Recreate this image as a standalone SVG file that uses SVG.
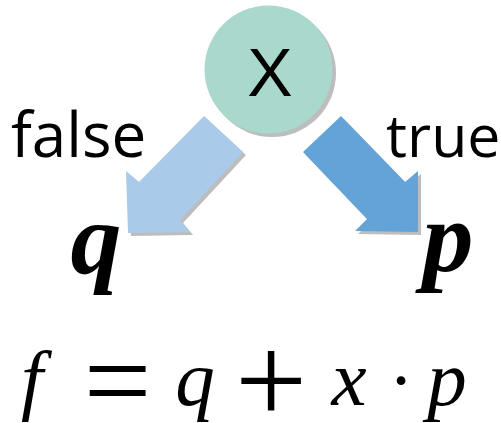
<svg xmlns="http://www.w3.org/2000/svg" width="501" height="423" viewBox="0 0 501 423">
<style>
.shadow{fill:#bdbdbd}
.lbl{font-family:"Open Sans","Noto Sans",sans-serif;font-size:62px;fill:#000}
.lbl2{font-family:"Open Sans","Noto Sans",sans-serif;font-size:59px;fill:#000}
.var{font-family:"Liberation Serif",serif;font-style:italic;font-weight:bold;font-size:102px;fill:#000}
.m{font-family:"Liberation Serif",serif;font-style:italic;font-size:79px;fill:#000}
.op{font-family:"Liberation Serif",serif;fill:#000}
</style>
<rect width="501" height="423" fill="#fff"/>
<g id="connectors">
<g id="edge-false">
<polygon class="shadow" transform="translate(3,3)" points="204,116 243,152 180,220 190,232 128,233 126,171 139,182"/>
<polygon fill="#a9cbe9" points="204,116 243,152 180,220 190,232 128,233 126,171 139,182"/>
</g>
<g id="edge-true">
<polygon class="shadow" transform="translate(3,3)" points="341,116 303,152 367,219 355,231 418,232 418,171 405,182"/>
<polygon fill="#64a3d7" points="341,116 303,152 367,219 355,231 418,232 418,171 405,182"/>
</g>
<text class="lbl" x="11" y="157">false</text>
<text class="lbl2" x="386" y="157">true</text>
</g>
<g id="node-x">
<circle class="shadow" cx="272" cy="73" r="64"/>
<circle fill="#a9d9cd" cx="268.5" cy="69.5" r="64"/>
<text x="270" y="96" text-anchor="middle" font-family="Liberation Sans, Arial, sans-serif" font-size="68" fill="#000">X</text>
</g>
<g id="node-q">
<text class="var" x="96" y="273" text-anchor="middle">q</text>
</g>
<g id="node-p">
<text class="var" x="448" y="271" text-anchor="middle">p</text>
</g>
<g id="formula">
<text class="m" x="32" y="405" text-anchor="middle">f</text>
<text class="op" x="117.5" y="421" text-anchor="middle" font-size="120">=</text>
<text class="m" x="195" y="405" text-anchor="middle">q</text>
<text class="op" x="271" y="423" text-anchor="middle" font-size="128">+</text>
<text class="m" x="349" y="405" text-anchor="middle">x</text>
<text class="op" x="401" y="405" text-anchor="middle" font-size="74">·</text>
<text class="m" x="447" y="405" text-anchor="middle">p</text>
</g>
</svg>
